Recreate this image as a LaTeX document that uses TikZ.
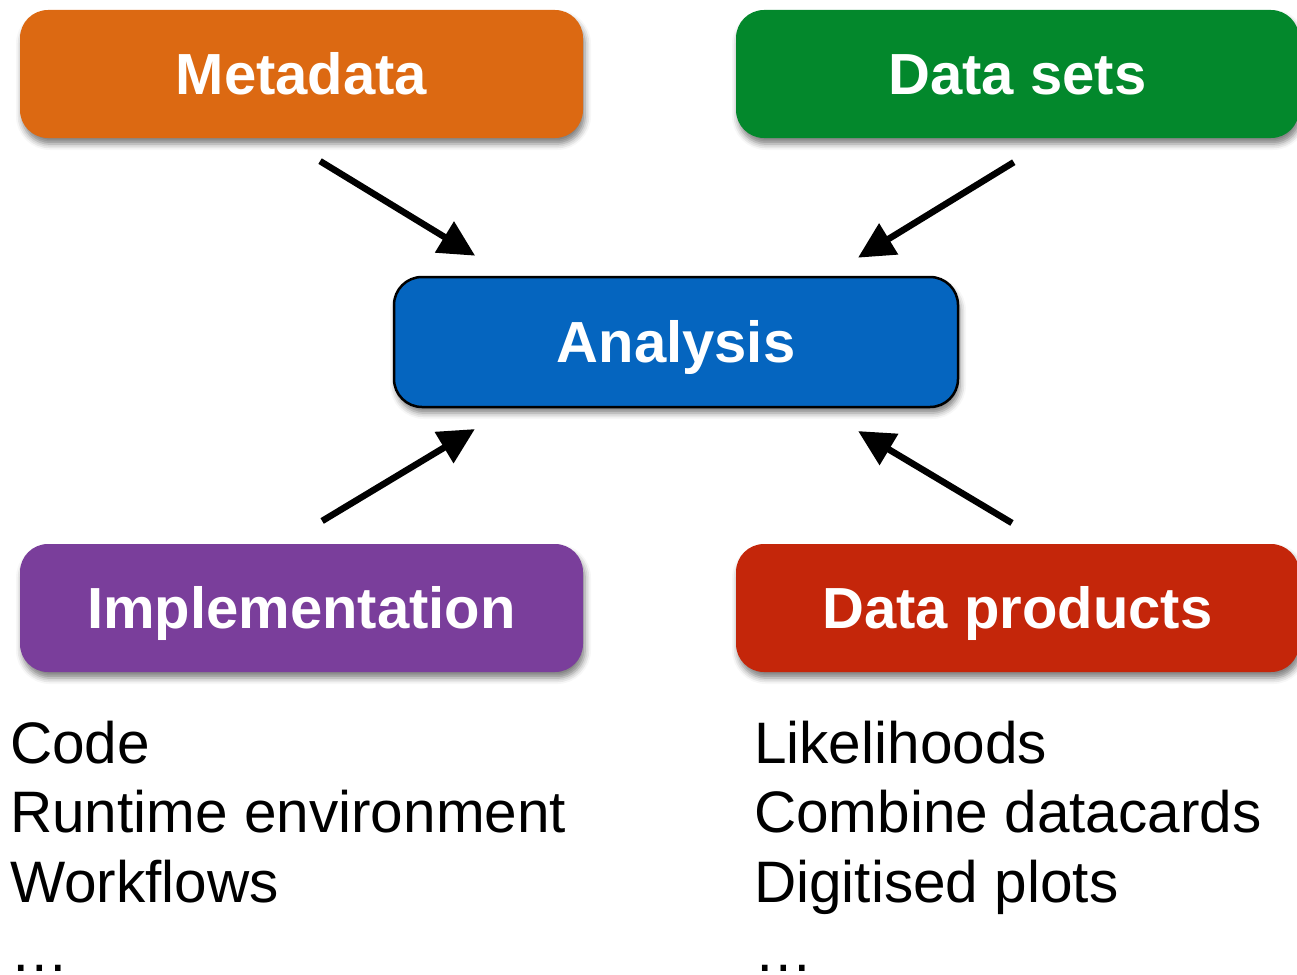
\documentclass[tikz,border=0pt]{standalone}
\usepackage{fontspec}
\setmainfont{Liberation Sans}
\usetikzlibrary{arrows.meta,shadows.blur}

\definecolor{metaorange}{RGB}{220,105,18}
\definecolor{setsgreen}{RGB}{3,136,44}
\definecolor{anablue}{RGB}{5,101,191}
\definecolor{implpurple}{RGB}{122,62,155}
\definecolor{prodred}{RGB}{196,38,10}

\begin{document}
\begin{tikzpicture}[x=1pt,y=-1pt,
  box/.style={rectangle,rounded corners=28pt,minimum width=563pt,minimum height=128pt,
    inner sep=0pt,text=white,text height=41.5pt,text depth=0pt,font=\fontsize{58}{60}\selectfont\bfseries,
    blur shadow={shadow xshift=2pt,shadow yshift=-6pt,shadow blur radius=6pt,shadow opacity=50}},
  arr/.style={line width=6.5pt,-{Triangle[length=36pt,width=35pt]}},
  list/.style={anchor=base west,align=left,inner sep=0pt,font=\fontsize{58.5}{69.5}\selectfont}]
\useasboundingbox (0,0) rectangle (1297,974);
% boxes
\node[box,fill=metaorange] (meta) at (301.5,74) {Metadata};
\node[box,fill=setsgreen] (sets) at (1017.5,74) {Data sets};
\node[box,fill=anablue,draw=black,line width=2.5pt,minimum width=564pt,minimum height=130pt] (ana) at (676,342) {Analysis};
\node[box,fill=implpurple] (impl) at (301.5,608) {Implementation};
\node[box,fill=prodred] (prod) at (1017.5,608) {Data products};
% lists (base is the last line)
\node[list] (impllist) at (10,971.5) {Code\\Runtime environment\\Workflows\\…};
\node[list] (prodlist) at (754,971.5) {Likelihoods\\Combine datacards\\Digitised plots\\…};
% arrows
\draw[arr,shorten <=44pt,shorten >=38.5pt] ([xshift=-19pt]meta.south) -- ([xshift=-168pt]ana.north);
\draw[arr,shorten <=46pt,shorten >=34.6pt] ([xshift=35.5pt]sets.south) -- ([xshift=152.5pt]ana.north);
\draw[arr,shorten <=44.3pt,shorten >=40.4pt] ([xshift=-17.3pt]impl.north) -- ([xshift=-166.5pt]ana.south);
\draw[arr,shorten <=40.6pt,shorten >=44.5pt] ([xshift=29.3pt]prod.north) -- ([xshift=143.9pt]ana.south);
\end{tikzpicture}
\end{document}
